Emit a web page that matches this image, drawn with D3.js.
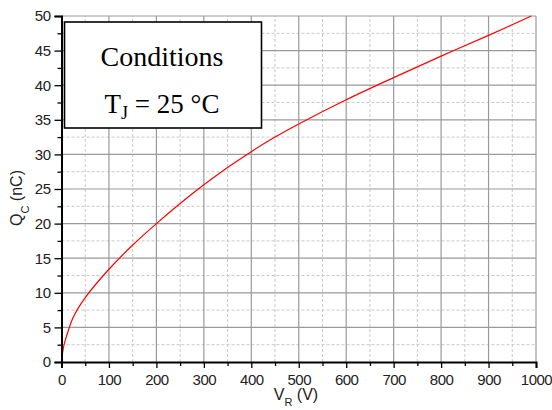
<!DOCTYPE html>
<html><head><meta charset="utf-8">
<script src="https://cdn.jsdelivr.net/npm/d3@7"></script>
<style>
body{margin:0;background:#fff;}
svg{display:block;}
</style></head>
<body><svg id="c" width="552" height="410"></svg>
<script>
const voltage = [0, 2, 5, 10, 25, 50, 100, 150, 200, 250, 300, 350, 400, 450, 500, 600, 700, 800, 900, 990];
const charge  = [0, 1.2, 2.4, 3.6, 6.5, 9.3, 13.4, 16.9, 20.0, 22.9, 25.6, 28.1, 30.4, 32.5, 34.4, 37.9, 41.1, 44.2, 47.2, 50.0];
const xMajorTicks = [0,100,200,300,400,500,600,700,800,900,1000];
const xMinorTicks = [50,150,250,350,450,550,650,750,850,950];
const yMajorTicks = [0,5,10,15,20,25,30,35,40,45,50];
const yMinorTicks = [2.5,7.5,12.5,17.5,22.5,27.5,32.5,37.5,42.5,47.5];
const xTitle = "V", xTitleSub = "R", xTitleUnit = " (V)";
const yTitle = "Q", yTitleSub = "C", yTitleUnit = " (nC)";
const boxLine1 = "Conditions";
const boxLine2a = "T", boxLine2sub = "J", boxLine2b = " = 25 °C";

const svg = d3.select("#c");
const x = d3.scaleLinear().domain([0,1000]).range([61.5,536]);
const y = d3.scaleLinear().domain([0,50]).range([362,16]);
const sans = "'Liberation Sans', Arial, sans-serif";
const serif = "'Liberation Serif', 'Times New Roman', serif";

// grid minor
const g = svg.append("g");
g.selectAll(".vmin").data(xMinorTicks).join("line")
  .attr("x1",d=>x(d)).attr("x2",d=>x(d)).attr("y1",y(0)).attr("y2",y(50))
  .attr("stroke","#c8c8c8").attr("stroke-width",1).attr("stroke-dasharray","3,2");
g.selectAll(".hmin").data(yMinorTicks).join("line")
  .attr("y1",d=>y(d)).attr("y2",d=>y(d)).attr("x1",x(0)).attr("x2",x(1000))
  .attr("stroke","#c8c8c8").attr("stroke-width",1).attr("stroke-dasharray","3,2");
// grid major
g.selectAll(".vmaj").data(xMajorTicks.slice(1)).join("line")
  .attr("x1",d=>x(d)).attr("x2",d=>x(d)).attr("y1",y(0)).attr("y2",y(50))
  .attr("stroke","#9a9a9a").attr("stroke-width",1.2);
g.selectAll(".hmaj").data(yMajorTicks.slice(1)).join("line")
  .attr("y1",d=>y(d)).attr("y2",d=>y(d)).attr("x1",x(0)).attr("x2",x(1000))
  .attr("stroke","#9a9a9a").attr("stroke-width",1.2);

// curve
const line = d3.line().x((d,i)=>x(voltage[i])).y((d,i)=>y(charge[i])).curve(d3.curveCatmullRom.alpha(0.5));
svg.append("path").datum(charge).attr("d",line)
  .attr("fill","none").attr("stroke","#ff0000").attr("stroke-width",1.2);

// axes
const xAxis = svg.append("g").attr("transform",`translate(0,${y(0)})`)
  .call(d3.axisBottom(x).tickValues(xMajorTicks).tickSize(6).tickPadding(4).tickFormat(d3.format("d")));
const xAxisMinor = svg.append("g").attr("transform",`translate(0,${y(0)})`)
  .call(d3.axisBottom(x).tickValues(xMinorTicks).tickSize(4).tickFormat(""));
const yAxis = svg.append("g").attr("transform",`translate(${x(0)},0)`)
  .call(d3.axisLeft(y).tickValues(yMajorTicks).tickSize(7).tickPadding(4).tickFormat(d3.format("d")));
const yAxisMinor = svg.append("g").attr("transform",`translate(${x(0)},0)`)
  .call(d3.axisLeft(y).tickValues(yMinorTicks).tickSize(4).tickFormat(""));
[xAxis,xAxisMinor,yAxis,yAxisMinor].forEach(a=>{
  a.select(".domain").attr("stroke","#000").attr("stroke-width",2);
  a.selectAll(".tick line").attr("stroke","#000").attr("stroke-width",1.3);
  a.selectAll("text").attr("font-family",sans).attr("font-size",15).attr("fill","#222").attr("letter-spacing","-0.5");
});
xAxisMinor.select(".domain").remove(); yAxisMinor.select(".domain").remove();
xAxis.selectAll("text").attr("y",23).attr("dy","0");

// axis titles
const xt = svg.append("text").attr("x",296).attr("y",400).attr("text-anchor","middle")
  .attr("font-family",sans).attr("font-size",16).attr("fill","#222");
xt.append("tspan").text(xTitle);
xt.append("tspan").attr("font-size",11).attr("dy",6).text(xTitleSub);
xt.append("tspan").attr("dy",-6).text(xTitleUnit);

const yt = svg.append("text").attr("transform","translate(22,198) rotate(-90)").attr("text-anchor","middle")
  .attr("font-family",sans).attr("font-size",16).attr("fill","#222");
yt.append("tspan").text(yTitle);
yt.append("tspan").attr("font-size",11).attr("dy",7).text(yTitleSub);
yt.append("tspan").attr("dy",-7).text(yTitleUnit);

// conditions box
svg.append("rect").attr("x",64.5).attr("y",22).attr("width",197).attr("height",106)
  .attr("fill","#fff").attr("stroke","#000").attr("stroke-width",1.6);
svg.append("text").attr("x",162).attr("y",66).attr("text-anchor","middle")
  .attr("font-family",serif).attr("font-size",28).attr("fill","#000").text(boxLine1);
const t2 = svg.append("text").attr("x",162).attr("y",113).attr("text-anchor","middle")
  .attr("font-family",serif).attr("font-size",27).attr("fill","#000");
t2.append("tspan").text(boxLine2a);
t2.append("tspan").attr("font-size",18).attr("dy",6).text(boxLine2sub);
t2.append("tspan").attr("dy",-6).text(boxLine2b);
</script></body></html>
